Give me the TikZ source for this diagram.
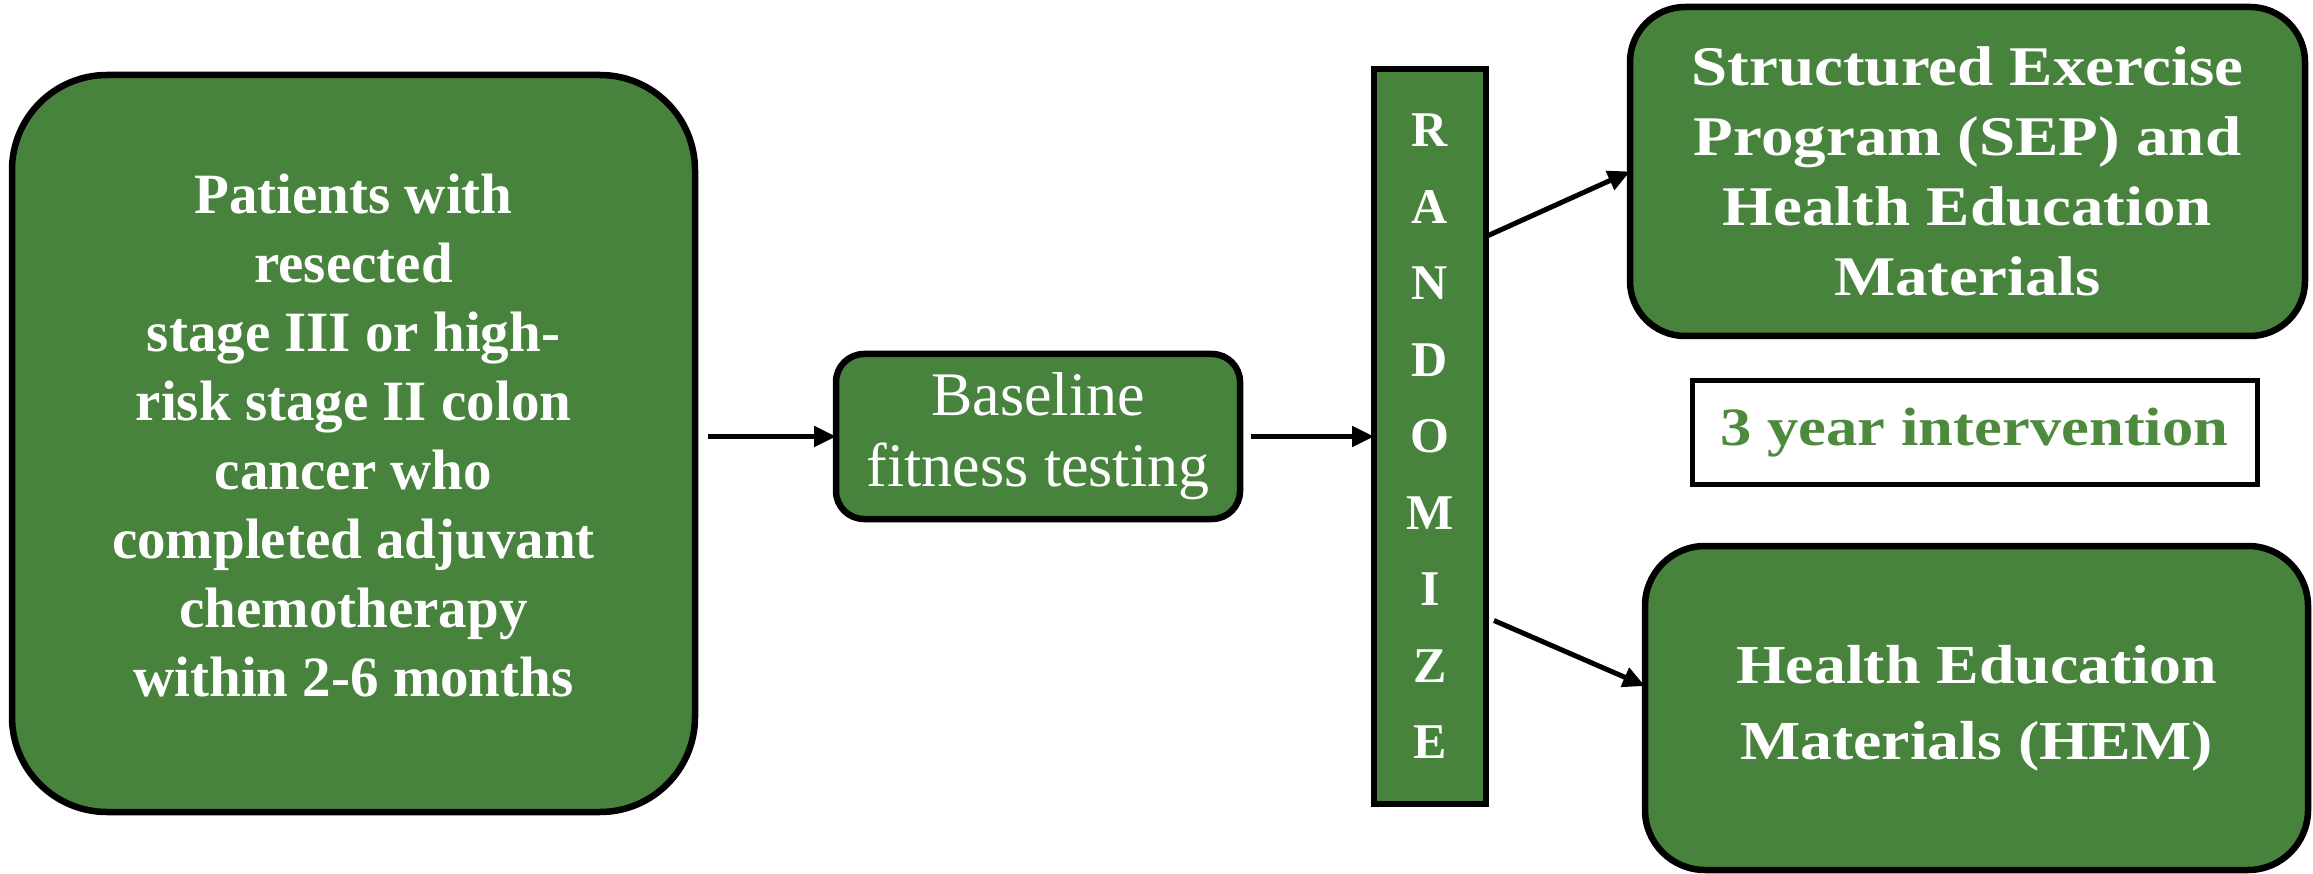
\documentclass[tikz,border=0pt]{standalone}
\usepackage{fontspec}
\setmainfont{Liberation Serif}
\newfontfamily\widefont[FakeStretch=1.16]{Liberation Serif}
\usetikzlibrary{arrows.meta}
\definecolor{boxgreen}{RGB}{72,131,61}
\definecolor{txtgreen}{RGB}{78,138,62}
\begin{document}
\begin{tikzpicture}[x=1pt,y=-1pt,
  gbox/.style={draw=black, line width=6.5pt, fill=boxgreen, text=white, align=center, inner sep=0pt, outer sep=0pt},
  big/.style={font=\fontsize{57}{69}\selectfont\bfseries},
  wide/.style={font=\widefont\fontsize{56}{70}\selectfont\bfseries},
  conn/.style={line width=5pt, -{Triangle[length=22pt,width=20pt]}}]
\useasboundingbox (0,0) rectangle (2313,874);
\node[gbox, big, rounded corners=95pt, minimum width=683pt, minimum height=737pt] (pat) at (353.5,443.5)
  {Patients with\\resected\\stage III or high-\\risk stage II colon\\cancer who\\completed adjuvant\\chemotherapy\\within 2-6 months\\[-52pt]};
\node[gbox, font=\fontsize{62}{71}\selectfont, rounded corners=28pt, minimum width=404pt, minimum height=165pt] (base) at (1038,436.5)
  {Baseline\\fitness testing};
\node[gbox, font=\fontsize{50}{76.5}\selectfont\bfseries, minimum width=112pt, minimum height=735pt] (rand) at (1430,436.5)
  {R\\A\\N\\D\\O\\M\\I\\Z\\E};
\node[gbox, wide, rounded corners=55pt, minimum width=675pt, minimum height=329pt] (sep) at (1967.5,171.5)
  {Structured Exercise\\Program (SEP) and\\Health Education\\Materials};
\node[draw=black, line width=5pt, fill=white, text=txtgreen, font=\widefont\fontsize{54}{70}\selectfont\bfseries, inner sep=0pt, minimum width=565pt, minimum height=103pt] (yr) at (1974.5,432.5)
  {3 year intervention};
\node[gbox, font=\widefont\fontsize{55}{76}\selectfont\bfseries, rounded corners=60pt, minimum width=663pt, minimum height=324pt] (hem) at (1976.5,708)
  {Health Education\\Materials (HEM)};
\draw[conn, shorten <=13pt] (pat.east |- base.west) -- (base.west);
\draw[conn, shorten <=11pt] (base.east) -- (rand.west |- base.east);
\draw[conn] ([yshift=200pt]rand.east) -- (sep.west);
\draw[conn] ([xshift=8pt,yshift=-184pt]rand.east) -- ([yshift=22pt]hem.west);
\end{tikzpicture}
\end{document}
